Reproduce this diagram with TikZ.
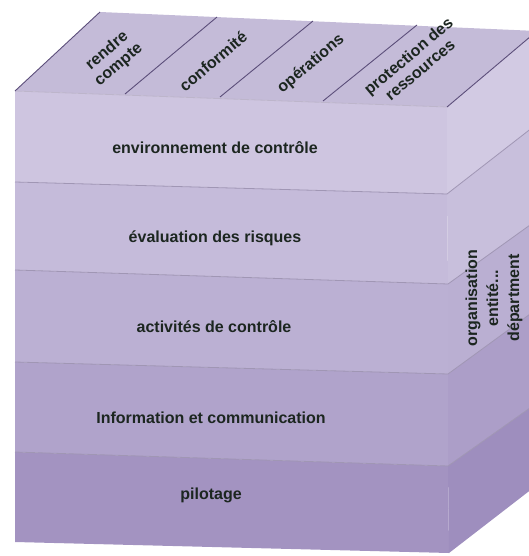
\documentclass[tikz,border=0pt]{standalone}
\usepackage{fontspec}
\setmainfont{Liberation Sans}
\usepackage{tikz}
\usetikzlibrary{positioning}
\definecolor{cbtop}{RGB}{196,187,216}
\definecolor{cbfronta}{RGB}{206,197,224}
\definecolor{cbfrontb}{RGB}{197,187,218}
\definecolor{cbfrontc}{RGB}{187,176,211}
\definecolor{cbfrontd}{RGB}{176,163,203}
\definecolor{cbfronte}{RGB}{163,147,193}
\definecolor{cbsidea}{RGB}{210,202,227}
\definecolor{cbsideb}{RGB}{200,191,220}
\definecolor{cbsidec}{RGB}{186,175,210}
\definecolor{cbsided}{RGB}{172,158,200}
\definecolor{cbsidee}{RGB}{158,142,190}
\definecolor{cbline}{RGB}{160,150,180}
\definecolor{cbdivider}{RGB}{92,78,122}
\definecolor{cbtext}{RGB}{28,38,32}
\tikzstyle{bandline} = [draw=cbline, line width=0.8pt]
\tikzstyle{divider} = [draw=cbdivider, line width=0.9pt]
\tikzstyle{layerlabel} = [font=\bfseries\fontsize{16}{16}\selectfont, text=cbtext, inner sep=0pt]
\tikzstyle{toplabel} = [layerlabel, rotate=40, align=center, font=\bfseries\fontsize{16}{18}\selectfont]
\tikzstyle{sidelabel} = [layerlabel, rotate=90, align=center, font=\bfseries\fontsize{16}{21}\selectfont]

\begin{document}
\begin{tikzpicture}[x=1pt, y=-1pt]
\useasboundingbox (0,0) rectangle (529,556);
\clip (0,0) rectangle (529,556);

% Top face
\fill[cbtop] (15,91) -- (100,12) -- (537,31) -- (447,107) -- cycle;

% Front face, five layers
\fill[cbfronta] (15,91) -- (447,107) -- (447,194) -- (15,182) -- cycle;
\fill[cbfrontb] (15,182) -- (447,194) -- (448,284) -- (15,270) -- cycle;
\fill[cbfrontc] (15,270) -- (448,284) -- (448,374) -- (15,362) -- cycle;
\fill[cbfrontd] (15,362) -- (448,374) -- (448,466) -- (15,452) -- cycle;
\fill[cbfronte] (15,452) -- (448,466) -- (449,553) -- (15,542) -- cycle;

% Right face, same layers
\fill[cbsidea] (447,107) -- (537,31) -- (537,124) -- (447,194) -- cycle;
\fill[cbsideb] (447,194) -- (537,124) -- (537,220) -- (448,284) -- cycle;
\fill[cbsidec] (448,284) -- (537,220) -- (537,309) -- (448,374) -- cycle;
\fill[cbsided] (448,374) -- (537,309) -- (537,403) -- (448,466) -- cycle;
\fill[cbsidee] (448,466) -- (537,403) -- (537,485) -- (449,553) -- cycle;

% Layer borders
\draw[bandline] (15,182) -- (447,194) -- (537,124);
\draw[bandline] (15,270) -- (448,284) -- (537,220);
\draw[bandline] (15,362) -- (448,374) -- (537,309);
\draw[bandline] (15,452) -- (448,466) -- (537,403);
\draw[bandline, draw=cbline!70] (15,91) -- (447,107);

% Dividers on top face
\draw[divider] (15,91) -- (100,12);
\draw[divider] (125,94) -- (217,17);
\draw[divider] (220,97) -- (313,21);
\draw[divider] (323,101) -- (417,25);
\draw[divider] (447,107) -- (537,31);

% Objectives
\node[toplabel] (compte) at (113,58) {rendre\\compte};
\node[toplabel] (conformite) at (213,61) {conformité};
\node[toplabel] (operations) at (311,64) {opérations};
\node[toplabel] (protection) at (414,63) {protection des\\ressources};

% Components
\node[layerlabel] (env) at (215,148) {environnement de contrôle};
\node[layerlabel] (risques) at (215,238) {évaluation des risques};
\node[layerlabel] (activites) at (214,327) {activités de contrôle};
\node[layerlabel] (info) at (211,418) {Information et communication};
\node[layerlabel] (pilotage) at (211,495) {pilotage};

% Unit
\node[sidelabel] (unit) at (494,298) {organisation\\entité...\\départment};
\end{tikzpicture}
\end{document}
